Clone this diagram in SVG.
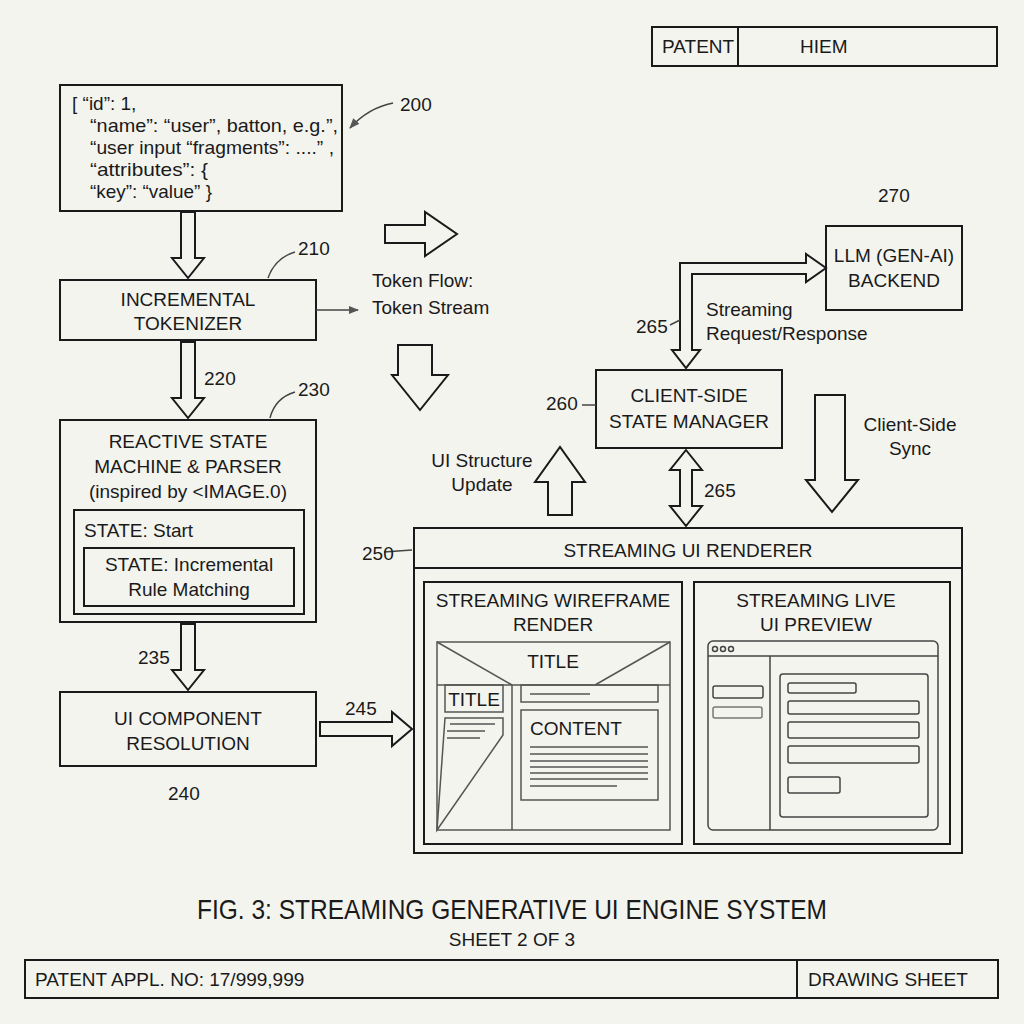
<svg xmlns="http://www.w3.org/2000/svg" width="1024" height="1024" viewBox="0 0 1024 1024">
<defs>
<style>
text{font-family:"Liberation Sans","DejaVu Sans",sans-serif;fill:#1a1a1a}
.b{fill:none;stroke:#1a1a1a;stroke-width:2}
.t{font-size:19px;text-anchor:middle}
.s{font-size:19px}
.g{fill:none;stroke:#555;stroke-width:1.5}
.ha{fill:#f4f4ef;stroke:#1a1a1a;stroke-width:2;stroke-linejoin:miter}
.ln{fill:none;stroke:#444;stroke-width:1.5}
</style>
<marker id="ah" viewBox="0 0 10 10" refX="9" refY="5" markerWidth="7" markerHeight="7" orient="auto"><path d="M0,1 L10,5 L0,9 z" fill="#555"/></marker>
</defs>
<rect width="1024" height="1024" fill="#f4f4ef"/>
<g id="header"><rect x="652" y="27" width="345" height="39" class="b" stroke-width="1.5"/><line x1="738" y1="27" x2="738" y2="66" class="b" stroke-width="1.5"/><text x="662" y="53" class="s" font-size="17">PATENT</text><text x="800" y="53" class="s" font-size="17">HIEM</text></g>
<g id="n200"><rect x="60" y="85" width="282" height="126" class="b"/>
<text class="s" font-size="17"><tspan x="72" y="110">[ “id”: 1,</tspan></text>
<text class="s" font-size="17" x="90" y="132" textLength="248" lengthAdjust="spacingAndGlyphs">“name”: “user”, batton, e.g.”,</text>
<text class="s" font-size="17" x="90" y="154" textLength="244" lengthAdjust="spacingAndGlyphs">“user input “fragments”: ....” ,</text>
<text class="s" font-size="17" x="90" y="176" textLength="118" lengthAdjust="spacingAndGlyphs">“attributes”: {</text>
<text class="s" font-size="17" x="90" y="198" textLength="122" lengthAdjust="spacingAndGlyphs">“key”: “value” }</text></g>
<g id="n210"><rect x="60" y="280" width="256" height="60" class="b"/><text class="t"><tspan x="188" y="306">INCREMENTAL</tspan><tspan x="188" y="330">TOKENIZER</tspan></text></g>
<g id="n230"><rect x="60" y="420" width="256" height="202" class="b"/><text class="t"><tspan x="188" y="448">REACTIVE STATE</tspan><tspan x="188" y="473">MACHINE &amp; PARSER</tspan><tspan x="188" y="498">(inspired by &lt;IMAGE.0)</tspan></text>
<rect x="74" y="510" width="230" height="104" class="b"/><text x="84" y="537" class="s">STATE: Start</text>
<rect x="84" y="548" width="210" height="58" class="b"/><text class="t"><tspan x="189" y="571">STATE: Incremental</tspan><tspan x="189" y="596">Rule Matching</tspan></text></g>
<g id="n240"><rect x="60" y="692" width="256" height="74" class="b"/><text class="t"><tspan x="188" y="725">UI COMPONENT</tspan><tspan x="188" y="750">RESOLUTION</tspan></text></g>
<g id="n270"><rect x="826" y="226" width="136" height="84" class="b"/><text class="t"><tspan x="894" y="262">LLM (GEN-AI)</tspan><tspan x="894" y="287">BACKEND</tspan></text></g>
<g id="n260"><rect x="596" y="370" width="186" height="78" class="b"/><text class="t"><tspan x="689" y="402">CLIENT-SIDE</tspan><tspan x="689" y="428">STATE MANAGER</tspan></text></g>
<g id="n250"><rect x="414" y="528" width="548" height="325" class="b"/><line x1="414" y1="568" x2="962" y2="568" class="b"/><text x="688" y="557" class="t">STREAMING UI RENDERER</text>
<rect x="424" y="582" width="258" height="262" class="b"/><text class="t"><tspan x="553" y="607">STREAMING WIREFRAME</tspan><tspan x="553" y="631">RENDER</tspan></text>
<rect x="694" y="582" width="256" height="262" class="b"/><text class="t"><tspan x="816" y="607">STREAMING LIVE</tspan><tspan x="816" y="631">UI PREVIEW</tspan></text>
<g class="g"><rect x="437" y="642" width="233" height="188"/><line x1="437" y1="685" x2="670" y2="685"/><line x1="512" y1="685" x2="512" y2="830"/><line x1="437" y1="642" x2="512" y2="685"/><line x1="670" y1="642" x2="595" y2="685"/>
<rect x="445" y="685" width="58" height="27"/><polygon points="445,718 503,718 503,735 437,830"/><line x1="450" y1="724" x2="495" y2="724"/><line x1="447" y1="731" x2="485" y2="731"/><line x1="447" y1="738" x2="480" y2="738"/>
<rect x="521" y="685" width="137" height="17"/><line x1="530" y1="694" x2="590" y2="694"/><rect x="521" y="710" width="137" height="90"/>
<line x1="530" y1="747" x2="648" y2="747"/><line x1="530" y1="754" x2="648" y2="754"/><line x1="530" y1="761" x2="648" y2="761"/><line x1="530" y1="767" x2="648" y2="767"/><line x1="530" y1="773" x2="648" y2="773"/><line x1="530" y1="779" x2="648" y2="779"/><line x1="530" y1="786" x2="617" y2="786"/></g>
<text x="553" y="668" class="t" font-size="22">TITLE</text><text x="474" y="706" class="t" font-size="18">TITLE</text><text x="530" y="735" class="s" font-size="18">CONTENT</text>
<g class="ln" stroke="#222"><rect x="708" y="641" width="230" height="189" rx="5"/><line x1="708" y1="656" x2="938" y2="656"/><line x1="770" y1="656" x2="770" y2="830"/>
<circle cx="715" cy="649" r="2.5"/><circle cx="723" cy="649" r="2.5"/><circle cx="731" cy="649" r="2.5"/>
<rect x="713" y="686" width="50" height="12" rx="2"/><rect x="713" y="707" width="49" height="11" rx="2" stroke="#777"/>
<rect x="780" y="674" width="148" height="143" rx="3"/><rect x="788" y="683" width="68" height="10" rx="2"/><rect x="788" y="701" width="131" height="13" rx="2"/><rect x="788" y="722" width="131" height="16" rx="2"/><rect x="788" y="746" width="131" height="17" rx="2"/><rect x="788" y="777" width="52" height="16" rx="2"/></g></g>
<g id="connectors">
<polygon class="ha" points="181,212 195,212 195,258 204,258 188,278 172,258 181,258"/>
<polygon class="ha" points="181,342 195,342 195,398 204,398 188,418 172,398 181,398"/>
<polygon class="ha" points="181,624 195,624 195,670 204,670 188,690 172,670 181,670"/>
<polygon class="ha" points="320,722 392,722 392,712 412,729 392,746 392,736 320,736"/>
<polygon class="ha" points="385,225 425,225 425,212 457,234 425,256 425,243 385,243"/>
<polygon class="ha" points="398,345 432,345 432,375 448,375 420,410 392,375 398,375"/>
<polygon class="ha" points="548,515 572,515 572,482 585,482 560,447 535,482 548,482"/>
<polygon class="ha" points="815,395 845,395 845,480 858,480 832,512 806,480 815,480"/>
<polygon class="ha" points="686,450 702,470 692,470 692,506 702,506 686,526 670,506 680,506 680,470 670,470"/>
<polygon class="ha" points="680,350 680,263 806,263 806,254 826,268 806,282 806,274 692,274 692,350 700,350 686,368 672,350"/>
<path d="M316,310 L358,310" class="ln" marker-end="url(#ah)"/>
<path d="M393,103 Q368,108 350,128" class="ln" marker-end="url(#ah)"/>
<path d="M295,252 Q275,258 268,278" class="ln"/>
<path d="M295,392 Q275,398 270,418" class="ln"/>
<path d="M384,552 L412,550" class="ln"/>
<path d="M582,405 L596,405" class="ln"/>
<path d="M670,325 L680,320" class="ln"/>
</g>
<g id="labels" font-size="19">
<text x="400" y="111" class="s">200</text><text x="298" y="255" class="s">210</text><text x="298" y="396" class="s">230</text>
<text x="204" y="385" class="s">220</text><text x="138" y="664" class="s">235</text><text x="168" y="800" class="s">240</text><text x="345" y="715" class="s">245</text>
<text x="362" y="560" class="s">250</text><text x="546" y="410" class="s">260</text><text x="636" y="333" class="s">265</text><text x="704" y="497" class="s">265</text><text x="878" y="202" class="s">270</text>
<text class="s"><tspan x="372" y="287">Token Flow:</tspan><tspan x="372" y="314">Token Stream</tspan></text>
<text class="s"><tspan x="706" y="316">Streaming</tspan><tspan x="706" y="340">Request/Response</tspan></text>
<text class="t"><tspan x="482" y="467">UI Structure</tspan><tspan x="482" y="491">Update</tspan></text>
<text class="t"><tspan x="910" y="431">Client-Side</tspan><tspan x="910" y="455">Sync</tspan></text>
</g>
<g id="footer"><text x="197" y="919" font-size="28" textLength="630" lengthAdjust="spacingAndGlyphs">FIG. 3: STREAMING GENERATIVE UI ENGINE SYSTEM</text><text x="512" y="946" class="t" font-size="14">SHEET 2 OF 3</text>
<rect x="25" y="960" width="973" height="38" class="b" stroke-width="1.5"/><line x1="797" y1="960" x2="797" y2="998" class="b" stroke-width="1.5"/>
<text x="35" y="986" class="s" font-size="17">PATENT APPL. NO: 17/999,999</text><text x="808" y="986" class="s" font-size="17">DRAWING SHEET</text></g>
</svg>
